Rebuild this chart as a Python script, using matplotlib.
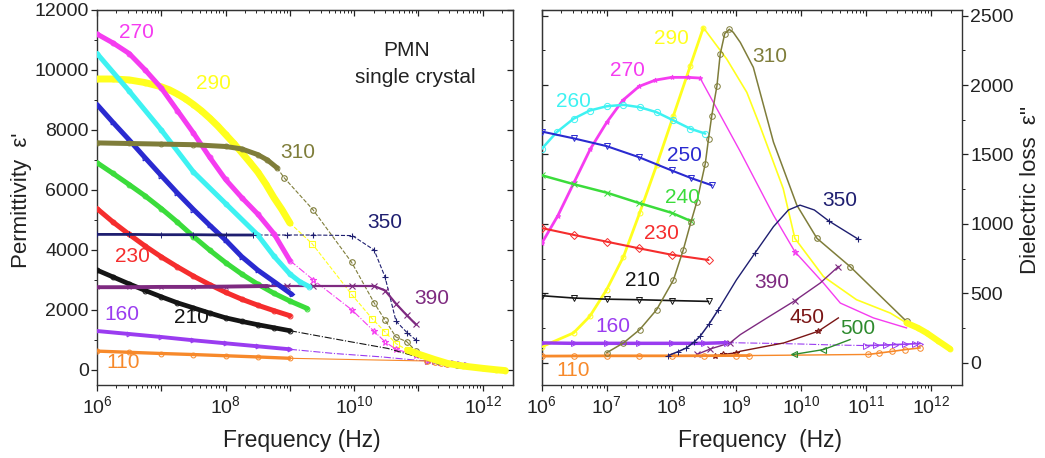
import numpy as np
import matplotlib
matplotlib.use("Agg")
import matplotlib.pyplot as plt
from matplotlib.ticker import FixedLocator, FuncFormatter, NullFormatter, LogLocator, MultipleLocator

plt.rcParams['font.family'] = ['Liberation Sans', 'DejaVu Sans']
plt.rcParams['mathtext.fontset'] = 'custom'
plt.rcParams['mathtext.rm'] = 'Liberation Sans'
plt.rcParams['mathtext.it'] = 'Liberation Sans:italic'
plt.rcParams['mathtext.default'] = 'regular'

# ---------------- left panel: permittivity eps' (x values are log10 of frequency)
p270_lg = [6.0, 6.25, 6.5, 6.75, 7.0, 7.25, 7.5, 7.75, 8.0, 8.25, 8.5, 8.75, 9.0]
p270_v = [11200, 10900, 10550, 10000, 9400, 8650, 7900, 7100, 6350, 5750, 5200, 4550, 3650]
p270s_lg = [9.0, 9.36, 9.96, 10.31, 10.48, 10.65, 10.96, 11.15]
p270s_v = [3650, 3010, 2010, 1290, 940, 690, 500, 330]

p260_lg = [6.0, 6.5, 7.0, 7.5, 8.0, 8.5, 8.75, 9.0, 9.15, 9.3]
p260_v = [10550, 9300, 8000, 6600, 5550, 4500, 3800, 3200, 2950, 2780]

p250_lg = [6.0, 6.25, 6.5, 6.75, 7.0, 7.25, 7.5, 7.75, 8.0, 8.25, 8.5, 8.75, 9.03]
p250_v = [8850, 8250, 7670, 7070, 6480, 5900, 5350, 4830, 4330, 3780, 3330, 2950, 2520]

p240_lg = [6.0, 6.25, 6.5, 6.75, 7.0, 7.25, 7.5, 7.75, 8.0, 8.25, 8.5, 8.75, 9.0, 9.27]
p240_v = [6910, 6550, 6180, 5800, 5380, 4930, 4450, 4000, 3580, 3200, 2860, 2560, 2300, 2050]

p230_lg = [6.0, 6.25, 6.5, 6.75, 7.0, 7.25, 7.5, 7.75, 8.0, 8.25, 8.5, 8.75, 9.0]
p230_v = [5380, 4930, 4520, 4130, 3770, 3440, 3130, 2850, 2590, 2360, 2160, 1980, 1810]

p210_lg = [6.0, 6.25, 6.5, 6.75, 7.0, 7.25, 7.5, 7.75, 8.0, 8.25, 8.5, 8.75, 9.0]
p210_v = [3330, 3100, 2870, 2650, 2440, 2240, 2070, 1900, 1740, 1620, 1510, 1410, 1310]
p210s_lg = [9.0, 9.79, 10.52, 11.16]
p210s_v = [1310, 1000, 720, 330]

p160_lg = [6.0, 6.5, 7.0, 7.5, 8.0, 8.5, 9.0]
p160_v = [1300, 1200, 1100, 990, 890, 790, 690]
p160s_lg = [9.0, 9.69, 10.41, 11.0, 11.15, 11.25, 11.35, 11.45, 11.55, 11.65, 11.75]
p160s_v = [690, 550, 440, 320, 310, 290, 270, 250, 225, 200, 175]

p110_lg = [6.0, 6.5, 7.0, 7.5, 8.0, 8.5, 9.0]
p110_v = [630, 590, 550, 515, 475, 435, 390]
p110s_lg = [9.0, 11.14, 11.25, 11.35, 11.45]
p110s_v = [390, 300, 270, 240, 210]

p290_lg = [6.0, 6.25, 6.5, 6.75, 7.0, 7.125, 7.25, 7.375, 7.5, 7.625, 7.75, 7.875, 8.0,
           8.125, 8.25, 8.375, 8.5, 8.625, 8.75, 8.875, 9.0]
p290_v = [9700, 9700, 9670, 9580, 9440, 9340, 9200, 9040, 8850, 8640, 8400, 8140, 7850,
          7560, 7250, 6930, 6600, 6200, 5750, 5350, 4900]
p290s_lg = [9.0, 9.35, 9.96, 10.28, 10.48, 10.65, 10.83]
p290s_v = [4900, 4200, 2520, 1710, 1270, 880, 660]
p290t_lg = [10.83, 11.04, 11.25, 11.45, 11.7, 12.0, 12.2, 12.35]
p290t_v = [660, 500, 350, 220, 130, 55, 10, -20]

p310_lg = [6.0, 6.5, 7.0, 7.5, 8.0, 8.25, 8.5, 8.65, 8.8]
p310_v = [7570, 7550, 7530, 7510, 7450, 7370, 7180, 7000, 6740]
p310s_lg = [8.8, 8.91, 9.36, 9.96, 10.31, 10.48, 10.65, 10.82, 10.96, 11.3, 11.6]
p310s_v = [6740, 6410, 5340, 3590, 2240, 1660, 1100, 940, 630, 300, 165]

p350_lg = [6.0, 6.5, 7.0, 7.5, 8.0, 8.42]
p350_v = [4520, 4520, 4510, 4510, 4500, 4500]
p350s_lg = [8.42, 8.96, 9.36, 9.97, 10.31, 10.48, 10.65, 10.82, 10.96]
p350s_v = [4500, 4500, 4500, 4480, 4000, 3100, 1630, 1250, 1000]

p390_lg = [6.0, 6.5, 7.0, 7.5, 8.0, 8.65]
p390_v = [2760, 2760, 2770, 2770, 2780, 2800]
p390s_lg = [8.65, 8.96, 9.36, 9.96, 10.31, 10.48, 10.65, 10.82, 10.96]
p390s_v = [2800, 2800, 2800, 2800, 2800, 2650, 2210, 1820, 1520]

# ---------------- right panel: dielectric loss eps''
l270_lg = [6.0, 6.25, 6.5, 6.75, 7.0, 7.25, 7.5, 7.75, 8.0, 8.25, 8.44]
l270_v = [860, 1060, 1300, 1540, 1730, 1890, 1990, 2035, 2055, 2055, 2050]
l270s_lg = [8.44, 9.06, 9.57, 9.9, 10.34, 10.6, 11.11, 11.62]
l270s_v = [2050, 1520, 1063, 800, 574, 430, 323, 251]

l260_lg = [6.0, 6.23, 6.49, 6.74, 7.0, 7.26, 7.51, 7.77, 8.03, 8.29, 8.52]
l260_v = [1540, 1660, 1757, 1816, 1847, 1857, 1840, 1804, 1745, 1685, 1650]

l250_lg = [6.0, 6.5, 7.0, 7.5, 8.0, 8.3, 8.62]
l250_v = [1665, 1615, 1560, 1480, 1385, 1330, 1278]

l240_lg = [6.0, 6.5, 7.0, 7.5, 8.0, 8.3]
l240_v = [1350, 1285, 1225, 1150, 1080, 1020]

l230_lg = [6.0, 6.5, 7.0, 7.5, 8.0, 8.57]
l230_v = [970, 920, 872, 824, 778, 740]

l210_lg = [6.0, 6.5, 7.0, 7.5, 8.0, 8.57]
l210_v = [483, 466, 458, 454, 448, 442]

l160_lg = [6.0, 6.5, 7.0, 7.5, 8.0, 8.5, 8.85]
l160_v = [143, 140, 140, 140, 140, 140, 145]
l160s_lg = [8.85, 9.5, 10.0, 10.5, 11.0]
l160s_v = [145, 140, 135, 128, 124]
l160h_lg = [11.0, 11.15, 11.3, 11.45, 11.6, 11.75, 11.83]
l160h_v = [124, 126, 128, 131, 134, 137, 138]

l110_lg = [6.0, 6.5, 7.0, 7.5, 8.0, 8.5, 9.0, 9.2]
l110_v = [48, 49, 50, 50, 50, 51, 52, 52]
l110s_lg = [9.2, 11.03]
l110s_v = [52, 60]
l110h_lg = [11.03, 11.2, 11.4, 11.6, 11.83]
l110h_v = [60, 70, 82, 95, 107]

l310_lg = [7.0, 7.26, 7.51, 7.77, 8.03, 8.18, 8.3, 8.39, 8.52, 8.57, 8.62, 8.7, 8.75, 8.82, 8.89]
l310_v = [72, 143, 239, 382, 597, 812, 1015, 1159, 1434, 1613, 1780, 1995, 2223, 2370, 2400]
l310s_lg = [8.89, 8.95, 9.06, 9.26, 9.57, 9.93, 10.24, 10.75, 11.62]
l310s_v = [2400, 2380, 2306, 2127, 1589, 1135, 896, 693, 298]

l290_lg = [6.0, 6.49, 6.74, 7.0, 7.26, 7.51, 7.77, 8.03, 8.29, 8.49]
l290_v = [115, 215, 334, 526, 764, 1080, 1422, 1780, 2139, 2413]
l290s_lg = [8.49, 8.85, 9.16, 9.36, 9.72, 9.9, 10.34, 10.85, 11.37, 11.62]
l290s_v = [2413, 2187, 1947, 1708, 1255, 896, 621, 454, 358, 287]
l290t_lg = [11.62, 11.8, 11.93, 12.1, 12.29]
l290t_v = [287, 250, 215, 160, 100]

l350_lg = [7.95, 8.1, 8.23, 8.35, 8.44, 8.58, 8.72]
l350_v = [52, 80, 107, 150, 191, 280, 382]
l350s_lg = [8.72, 9.0, 9.29, 9.57, 9.8, 9.98, 10.2, 10.42, 10.88]
l350s_v = [382, 597, 793, 980, 1100, 1135, 1100, 1022, 889]

l390_lg = [8.39, 8.6, 8.9, 9.06, 9.47, 9.9, 10.29, 10.57]
l390_v = [60, 100, 143, 203, 323, 447, 574, 693]

l450_lg = [8.67, 8.8, 9.0, 9.06, 9.73, 10.26, 10.57]
l450_v = [48, 60, 72, 83, 143, 227, 323]

l500_lg = [9.88, 10.34, 10.75]
l500_v = [60, 95, 167]

C = {
    110: '#f7892a', 160: '#9a3cf0', 210: '#151515', 230: '#f52d2d', 240: '#3bdc3b',
    250: '#2a2ad0', 260: '#3ef2f2', 270: '#f53cf0', 290: '#ffff1e', 310: '#7f7d3a',
    350: '#1e1e70', 390: '#7e2a80', 450: '#7a1515', 500: '#2d8a2d',
}


def f(lg):
    return 10 ** np.asarray(lg, dtype=float)


def band(ax, lg, v, c, lw=3.6, marker='o', ms=3.5, z=3):
    ax.plot(f(lg), v, '-', color=c, lw=lw, solid_capstyle='round',
            solid_joinstyle='round', zorder=z)
    ax.plot(f(lg), v, ls='none', marker=marker, ms=ms, mfc='none', mec=c,
            mew=0.7, zorder=z)


def thin(ax, lg, v, c, ls='-.', lw=0.8, marker=None, ms=4, every=None, z=2):
    ax.plot(f(lg), v, ls=ls, color=c, lw=lw, marker=marker, ms=ms, mfc='none',
            mec=c, mew=0.8, markevery=every, zorder=z)


fig = plt.figure(figsize=(10.45, 4.58), dpi=100)
W, H = 1045, 458
axL = fig.add_axes([97 / W, (H - 385) / H, 416 / W, 375 / H])
axR = fig.add_axes([541.7 / W, (H - 385) / H, 420 / W, 375 / H])

# ---- left panel
a = axL
band(a, p290_lg, p290_v, C[290], lw=5)
thin(a, p290s_lg, p290s_v, C[290], ls='--', marker='s', ms=4, every=list(range(1, 7)))
band(a, p290t_lg, p290t_v, C[290], lw=5)
band(a, p270_lg, p270_v, C[270])
thin(a, p270s_lg, p270s_v, C[270], marker='*', ms=5, every=list(range(1, 8)))
band(a, p260_lg, p260_v, C[260])
band(a, p250_lg, p250_v, C[250], marker='>')
band(a, p240_lg, p240_v, C[240])
band(a, p230_lg, p230_v, C[230])
band(a, p210_lg, p210_v, C[210], lw=3.4)
thin(a, p210s_lg, p210s_v, C[210])
band(a, p160_lg, p160_v, C[160], lw=2.8, marker='>')
thin(a, p160s_lg, p160s_v, C[160], marker='>', ms=4, every=list(range(4, 11)))
band(a, p110_lg, p110_v, C[110], lw=2.4)
thin(a, p110s_lg, p110s_v, C[110], ls='-', marker='o', ms=4, every=list(range(1, 5)))
band(a, p310_lg, p310_v, C[310], lw=3.6)
thin(a, p310s_lg, p310s_v, C[310], ls='--', marker='o', ms=4, every=list(range(1, 11)))
band(a, p350_lg, p350_v, C[350], lw=2.0, marker='+', ms=4)
thin(a, p350s_lg, p350s_v, C[350], ls='--', marker='+', ms=5, every=list(range(1, 9)))
band(a, p390_lg, p390_v, C[390], lw=2.8, marker='x', ms=3)
thin(a, p390s_lg, p390s_v, C[390], ls='-', lw=1.6, marker='x', ms=4, every=list(range(1, 9)))

a.set_xscale('log')
a.set_xlim(1e6, 10 ** 12.47)
a.set_ylim(-500, 12000)
a.xaxis.set_major_locator(FixedLocator([10.0 ** k for k in range(6, 13)]))
a.xaxis.set_major_formatter(FuncFormatter(
    lambda x, p: r'$10^{%d}$' % round(np.log10(x)) if round(np.log10(x)) % 2 == 0 else ''))
a.xaxis.set_minor_locator(LogLocator(subs=np.arange(2, 10), numticks=20))
a.xaxis.set_minor_formatter(NullFormatter())
a.yaxis.set_major_locator(MultipleLocator(2000))
a.yaxis.set_minor_locator(MultipleLocator(1000))

labL = [('270', 0.096, 0.939, 270), ('290', 0.279, 0.805, 290), ('310', 0.483, 0.621, 310),
        ('350', 0.692, 0.432, 350), ('390', 0.805, 0.232, 390), ('230', 0.084, 0.344, 230),
        ('160', 0.060, 0.187, 160), ('210', 0.228, 0.179, 210), ('110', 0.0625, 0.059, 110)]
for t, x, y, k in labL:
    a.text(x, y, t, color=C[k], fontsize=15, ha='center', va='center', transform=a.transAxes)
a.text(0.745, 0.893, 'PMN', fontsize=15, ha='center', va='center', transform=a.transAxes, color='#222')
a.text(0.764, 0.821, 'single crystal', fontsize=15, ha='center', va='center',
       transform=a.transAxes, color='#222')

# ---- right panel
a = axR
thin(a, l290s_lg, l290s_v, C[290], ls='-', lw=1.2, marker='s', ms=4, every=[5])
band(a, l290_lg, l290_v, C[290], lw=2.0, ms=3.5)
band(a, l290t_lg, l290t_v, C[290], lw=4.5)
thin(a, l270s_lg, l270s_v, C[270], ls='-', lw=1.0, marker='*', ms=5, every=[3])
band(a, l270_lg, l270_v, C[270], lw=2.0, marker='*', ms=3.5)
band(a, l260_lg, l260_v, C[260], lw=1.8, ms=4.5)
band(a, l250_lg, l250_v, C[250], lw=1.5, marker='v', ms=4.5)
band(a, l240_lg, l240_v, C[240], lw=1.8, marker='x', ms=4)
band(a, l230_lg, l230_v, C[230], lw=1.5, marker='D', ms=4)
band(a, l210_lg, l210_v, C[210], lw=1.2, marker='v', ms=4.5)
band(a, l160_lg, l160_v, C[160], lw=2.5, marker='>', ms=4)
thin(a, l160s_lg, l160s_v, C[160])
band(a, l160h_lg, l160h_v, C[160], lw=1.2, marker='>', ms=4)
band(a, l110_lg, l110_v, C[110], lw=2, ms=4)
thin(a, l110s_lg, l110s_v, C[110], ls='-', lw=1.0)
band(a, l110h_lg, l110h_v, C[110], lw=1.2, ms=4)
band(a, l310_lg, l310_v, C[310], lw=1.1, ms=4)
thin(a, l310s_lg, l310s_v, C[310], ls='-', lw=1.1, marker='o', ms=4, every=[6, 7, 8])
band(a, l350_lg, l350_v, C[350], lw=1.1, marker='+', ms=4)
thin(a, l350s_lg, l350s_v, C[350], ls='-', lw=1.0, marker='+', ms=5, every=[2, 7, 8])
thin(a, l390_lg, l390_v, C[390], ls='-', lw=1.0, marker='x', ms=4, every=[0, 1, 2, 5, 7])
thin(a, l450_lg, l450_v, C[450], ls='-', lw=1.0, marker='*', ms=4, every=[0, 1, 2, 5])
thin(a, l500_lg, l500_v, C[500], ls='-', lw=1.0, marker='<', ms=4, every=[0, 1])

a.set_xscale('log')
a.set_xlim(1e6, 10 ** 12.47)
a.set_ylim(-160, 2540)
a.xaxis.set_major_locator(FixedLocator([10.0 ** k for k in range(6, 13)]))
a.xaxis.set_major_formatter(FuncFormatter(lambda x, p: r'$10^{%d}$' % round(np.log10(x))))
a.xaxis.set_minor_locator(LogLocator(subs=np.arange(2, 10), numticks=20))
a.xaxis.set_minor_formatter(NullFormatter())
a.yaxis.set_major_locator(MultipleLocator(500))
a.yaxis.set_minor_locator(MultipleLocator(250))
a.yaxis.tick_right()

labR = [('290', 0.310, 0.925, 290), ('310', 0.544, 0.875, 310), ('270', 0.203, 0.840, 270),
        ('260', 0.075, 0.755, 260), ('250', 0.341, 0.613, 250), ('240', 0.336, 0.499, 240),
        ('350', 0.710, 0.493, 350), ('230', 0.286, 0.405, 230), ('210', 0.241, 0.280, 210),
        ('390', 0.548, 0.272, 390), ('160', 0.170, 0.155, 160), ('450', 0.632, 0.181, 450),
        ('500', 0.753, 0.152, 500), ('110', 0.075, 0.040, 110)]
for t, x, y, k in labR:
    a.text(x, y, t, color=C[k], fontsize=15, ha='center', va='center', transform=a.transAxes)

# ---- ticks and frames
for a, ylab_side in ((axL, 'left'), (axR, 'right')):
    for s in a.spines.values():
        s.set_color('#333333')
        s.set_linewidth(1.0)
    a.tick_params(which='major', direction='out', length=4, width=0.9, labelsize=14,
                  colors='#222222', pad=2)
    a.tick_params(which='minor', direction='out', length=2.2, width=0.7, colors='#222222')
    a.tick_params(axis='x', pad=3)
    top = a.secondary_xaxis('top')
    top.xaxis.set_major_locator(FixedLocator([10.0 ** k for k in range(6, 13)]))
    top.xaxis.set_minor_locator(LogLocator(subs=np.arange(2, 10), numticks=20))
    top.xaxis.set_major_formatter(NullFormatter())
    top.xaxis.set_minor_formatter(NullFormatter())
    top.tick_params(which='major', direction='in', length=4, width=0.9, colors='#222222')
    top.tick_params(which='minor', direction='in', length=2.2, width=0.7, colors='#222222')
    other = 'right' if ylab_side == 'left' else 'left'
    side = a.secondary_yaxis(other)
    side.yaxis.set_major_locator(a.yaxis.get_major_locator())
    side.yaxis.set_minor_locator(a.yaxis.get_minor_locator())
    side.yaxis.set_major_formatter(NullFormatter())
    side.tick_params(which='major', direction='in', length=4, width=0.9, colors='#222222')
    side.tick_params(which='minor', direction='in', length=2.2, width=0.7, colors='#222222')
    for s in list(top.spines.values()) + list(side.spines.values()):
        s.set_color('#333333')

fig.text(302 / W, 1 - 440 / H, 'Frequency (Hz)', fontsize=16.5, ha='center', va='center', color='#222')
fig.text(760 / W, 1 - 440 / H, 'Frequency  (Hz)', fontsize=16.5, ha='center', va='center', color='#222')
fig.text(22 / W, 1 - 200 / H, "Permittivity  \u03b5'", fontsize=16, ha='center', va='center',
         rotation=90, color='#222')
fig.text(1030 / W, 1 - 190 / H, "Dielectric loss  \u03b5''", fontsize=16, ha='center', va='center',
         rotation=90, color='#222')

fig.savefig('out.png', dpi=100)
